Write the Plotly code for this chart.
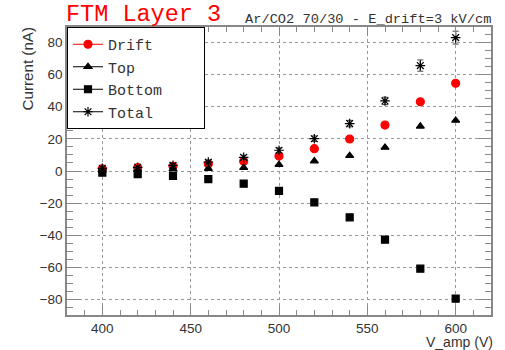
import plotly.graph_objects as go

v_amp = [400, 420, 440, 460, 480, 500, 520, 540, 560, 580, 600]
drift = [1.4, 2.1, 2.9, 4.4, 6.0, 9.3, 13.9, 19.9, 28.6, 43.1, 54.6]
top = [0.4, 0.8, 1.2, 1.5, 2.1, 3.9, 6.2, 9.5, 14.7, 27.8, 31.5]
bottom = [-1.0, -1.9, -3.1, -5.0, -7.9, -12.4, -19.5, -28.8, -42.7, -60.8, -79.4]
total = [1.7, 2.3, 3.5, 5.5, 8.5, 12.9, 20.1, 29.5, 43.6, 65.6, 83.0]
total_err = [0.9, 0.9, 1.0, 1.2, 1.3, 1.5, 1.7, 2.0, 2.3, 3.5, 4.0]
bottom_err = [0.5, 0.5, 0.5, 0.6, 0.6, 0.7, 0.8, 0.9, 1.0, 1.6, 1.6]

series = [
    ("Drift", drift, None, "circle", "#ff0000", 8),
    ("Top", top, None, "triangle-up", "black", 7),
    ("Bottom", bottom, bottom_err, "square", "black", 7),
    ("Total", total, total_err, "asterisk-open", "black", 8),
]

fig = go.Figure()
for name, ys, err, sym, col, sz in series:
    fig.add_trace(go.Scatter(
        x=v_amp, y=ys, mode="markers", name=name, showlegend=False,
        marker=dict(symbol=sym, color=col, size=sz,
                    line=dict(color=col, width=1.2)),
        error_y=dict(type="data", array=err, color="#444", thickness=1, width=3,
                     visible=err is not None),
    ))
pad = "\u00a0"
label_len = 10
for name, ys, err, sym, col, sz in series:
    fig.add_trace(go.Scatter(
        x=[None], y=[None], mode="lines+markers",
        name=name + pad * (label_len - len(name)),
        marker=dict(symbol=sym, color=col, size=sz,
                    line=dict(color=col, width=1.2)),
        line=dict(color=col, width=1),
    ))

axis_common = dict(
    showline=True, linecolor="#888", linewidth=1.5, mirror="allticks",
    ticks="inside", tickcolor="#888", tickwidth=1,
    showgrid=True, gridcolor="#999", griddash="dot", gridwidth=1,
    zeroline=False,
    tickfont=dict(family="Liberation Sans, Arial", size=13.5, color="#333"),
)

fig.update_xaxes(
    range=[380, 620], dtick=50, tick0=400, ticklen=9,
    minor=dict(dtick=10, ticks="inside", ticklen=5, tickcolor="#888", showgrid=False),
    **axis_common,
)
fig.update_yaxes(
    range=[-89.6, 89.6], dtick=20, tick0=0, ticklen=13,
    minor=dict(dtick=5, ticks="inside", ticklen=6, tickcolor="#888", showgrid=False),
    **axis_common,
)

fig.update_layout(
    width=505, height=350,
    margin=dict(l=67, r=12, t=27, b=35),
    plot_bgcolor="white", paper_bgcolor="white",
    legend=dict(
        x=0, y=1, xanchor="left", yanchor="top",
        bgcolor="white", bordercolor="black", borderwidth=1,
        font=dict(family="Liberation Mono, Courier New", size=15, color="#333"),
        itemwidth=30,
    ),
    annotations=[
        dict(text="FTM Layer 3", xref="paper", yref="paper", x=0, y=1,
             xanchor="left", yanchor="bottom", yshift=-3, xshift=-3, showarrow=False,
             font=dict(family="Liberation Mono, Courier New", size=23.5, color="#ff0000")),
        dict(text="Ar/CO2 70/30 - E_drift=3 kV/cm", xref="paper", yref="paper", x=1, y=1,
             xanchor="right", yanchor="bottom", yshift=-2, xshift=2, showarrow=False,
             font=dict(family="Liberation Mono, Courier New", size=13.7, color="#333")),
        dict(text="Current (nA)", xref="paper", yref="paper", x=0, y=1,
             xanchor="right", yanchor="top", xshift=-30, yshift=2, textangle=-90, showarrow=False,
             font=dict(family="Liberation Sans, Arial", size=15.2, color="#333")),
        dict(text="V_amp (V)", xref="paper", yref="paper", x=1, y=0,
             xanchor="right", yanchor="bottom", yshift=-36, xshift=3, borderpad=0,
             showarrow=False,
             font=dict(family="Liberation Sans, Arial", size=14, color="#333")),
    ],
)

fig.write_html("out.html")
